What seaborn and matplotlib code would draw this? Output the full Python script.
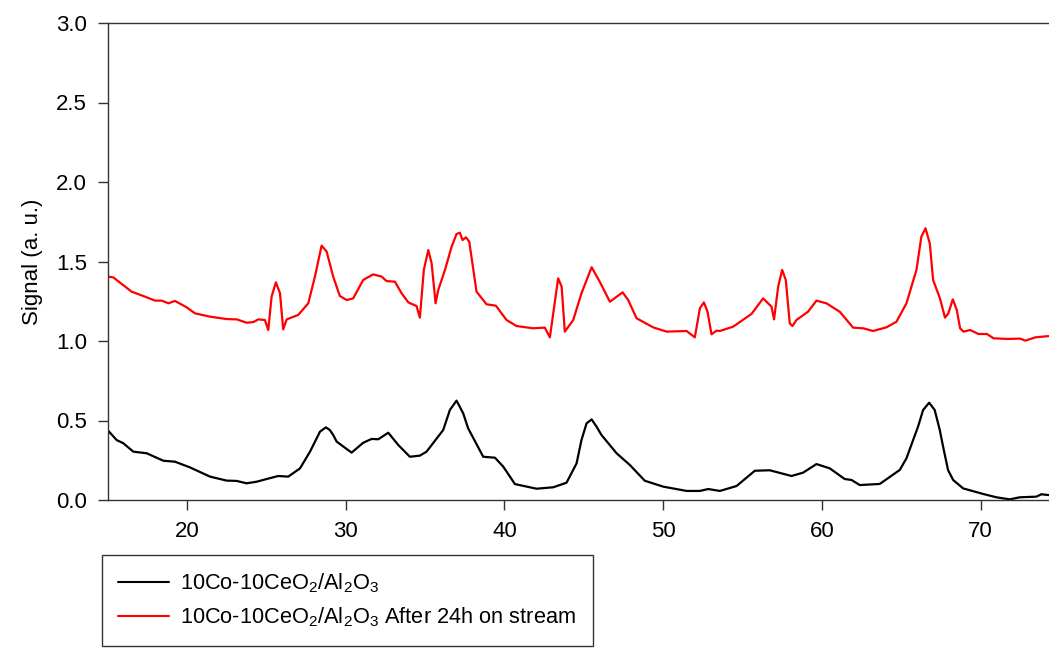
import numpy as np
import pandas as pd
import matplotlib
matplotlib.use("Agg")
import matplotlib.pyplot as plt
import seaborn as sns

# ---- data ----
fresh_x = [15.0, 15.57, 15.99, 16.62, 17.46, 18.51, 19.24, 20.19, 21.45, 22.50, 23.13, 23.76,
           24.39, 25.02, 25.75, 26.38, 27.12, 27.75, 28.38, 28.75, 29.0, 29.21, 29.43, 30.37, 31.10,
           31.63, 32.05, 32.68, 33.31, 34.04, 34.67, 35.09, 36.14, 36.56, 36.98, 37.4, 37.71, 38.66, 39.40,
           39.92, 40.66, 42.02, 43.07, 43.91, 44.54, 44.85, 45.17, 45.49, 45.8, 46.11, 47.06, 47.90, 48.84,
           50.0, 51.47, 52.31, 52.83, 53.57, 54.62, 55.77, 56.71, 58.08, 58.81, 59.65, 60.49,
           61.43, 61.86, 62.38, 63.64, 64.90, 65.32, 65.74, 66.05, 66.37, 66.75, 67.10, 67.42, 67.63,
           67.94, 68.26, 68.89, 70.15, 70.99, 71.83, 72.46, 73.5, 73.82, 74.28]
fresh_y = [0.44, 0.377, 0.357, 0.304, 0.294, 0.247, 0.241, 0.205, 0.147, 0.122, 0.12, 0.105,
           0.115, 0.132, 0.151, 0.147, 0.199, 0.304, 0.43, 0.457, 0.44, 0.409, 0.367, 0.298, 0.36,
           0.384, 0.382, 0.423, 0.346, 0.272, 0.279, 0.304, 0.44, 0.566, 0.625, 0.545, 0.451, 0.272, 0.266,
           0.21, 0.10, 0.071, 0.08, 0.109, 0.23, 0.377, 0.482, 0.507, 0.461, 0.409, 0.294, 0.22, 0.121,
           0.084, 0.057, 0.057, 0.069, 0.057, 0.088, 0.184, 0.187, 0.151, 0.172, 0.226, 0.199,
           0.132, 0.126, 0.094, 0.101, 0.189, 0.262, 0.377, 0.461, 0.566, 0.612, 0.566, 0.44, 0.335,
           0.189, 0.126, 0.073, 0.038, 0.017, 0.004, 0.017, 0.021, 0.036, 0.031]

used_x = [15.04, 15.36, 15.78, 16.52, 17.25, 17.99, 18.41, 18.83, 19.24, 19.98, 20.5, 21.45,
          22.5, 23.13, 23.76, 24.18, 24.49, 24.91, 25.12, 25.33, 25.6, 25.86, 26.06, 26.28,
          27.01, 27.64, 28.06, 28.48, 28.80, 29.21, 29.63, 30.06, 30.47, 31.10, 31.73, 32.26,
          32.57, 33.10, 33.52, 33.94, 34.46, 34.67, 34.92, 35.2, 35.41, 35.66, 35.83, 36.25,
          36.67, 36.98, 37.19, 37.36, 37.57, 37.78, 38.24, 38.87, 39.46, 40.13, 40.76, 41.81,
          42.54, 42.86, 43.38, 43.60, 43.80, 44.33, 44.85, 45.49, 46.0, 46.64, 47.44, 47.79,
          48.32, 49.36, 50.21, 51.47, 51.99, 52.31, 52.56, 52.79, 53.04, 53.36, 53.57, 54.4,
          55.56, 56.29, 56.82, 56.98, 57.24, 57.49, 57.72, 57.97, 58.14, 58.39, 59.12, 59.65,
          60.28, 61.12, 61.96, 62.59, 63.22, 64.06, 64.69, 65.32, 65.95, 66.26, 66.52, 66.79,
          67.0, 67.43, 67.75, 67.96, 68.24, 68.49, 68.70, 68.91, 69.33, 69.86, 70.39, 70.81,
          71.66, 72.49, 72.81, 73.44, 74.28]
used_y = [1.405, 1.40, 1.367, 1.31, 1.283, 1.254, 1.254, 1.237, 1.252, 1.212, 1.174, 1.153,
          1.138, 1.136, 1.115, 1.119, 1.136, 1.132, 1.069, 1.279, 1.369, 1.30, 1.073, 1.136,
          1.164, 1.237, 1.405, 1.60, 1.562, 1.405, 1.283, 1.258, 1.268, 1.384, 1.419, 1.405,
          1.377, 1.373, 1.30, 1.243, 1.22, 1.147, 1.447, 1.572, 1.489, 1.237, 1.321, 1.447,
          1.593, 1.673, 1.681, 1.635, 1.652, 1.625, 1.31, 1.231, 1.222, 1.132, 1.094, 1.08,
          1.084, 1.023, 1.394, 1.342, 1.059, 1.132, 1.30, 1.464, 1.373, 1.247, 1.306, 1.258,
          1.143, 1.086, 1.059, 1.063, 1.023, 1.206, 1.243, 1.184, 1.042, 1.065, 1.063, 1.09,
          1.17, 1.268, 1.216, 1.136, 1.342, 1.447, 1.384, 1.111, 1.094, 1.132, 1.184, 1.254,
          1.237, 1.184, 1.084, 1.08, 1.063, 1.086, 1.121, 1.237, 1.447, 1.656, 1.709, 1.614,
          1.384, 1.268, 1.147, 1.174, 1.262, 1.195, 1.08, 1.059, 1.069, 1.044, 1.044, 1.017,
          1.013, 1.015, 1.002, 1.023, 1.031]

label_fresh = r"10Co-10CeO$_2$/Al$_2$O$_3$"
label_used = r"10Co-10CeO$_2$/Al$_2$O$_3$ After 24h on stream"
y_ticks = [0.0, 0.5, 1.0, 1.5, 2.0, 2.5, 3.0]
x_ticks = [20, 30, 40, 50, 60, 70]

# ---- styling ----
sns.set_style("ticks")
plt.rcParams["font.family"] = ["Liberation Sans", "DejaVu Sans"]
plt.rcParams["text.color"] = "black"
plt.rcParams["mathtext.fontset"] = "custom"
plt.rcParams["mathtext.rm"] = "Liberation Sans"
plt.rcParams["mathtext.it"] = "Liberation Sans:italic"
plt.rcParams["mathtext.bf"] = "Liberation Sans:bold"
plt.rcParams["mathtext.default"] = "regular"

df = pd.concat([
    pd.DataFrame({"x": fresh_x, "y": fresh_y, "s": label_fresh}),
    pd.DataFrame({"x": used_x, "y": used_y, "s": label_used}),
])

fig = plt.figure(figsize=(10.49, 6.48), dpi=100)
ax = fig.add_axes([107.6 / 1049, 1 - 500 / 648, 1 - 107.6 / 1049, (500 - 23) / 648])

sns.lineplot(data=df, x="x", y="y", hue="s", estimator=None, sort=True,
             palette={label_fresh: "black", label_used: "#ff0000"},
             linewidth=1.6, ax=ax, legend=False)

ax.set_xlim(15, 74.3)
ax.set_ylim(0, 3.0)
ax.set_xticks(x_ticks)
ax.set_yticks(y_ticks)
ax.set_yticklabels([f"{v:.1f}" for v in y_ticks])
ax.set_xlabel("")
ax.set_ylabel("Signal (a. u.)", fontsize=16, labelpad=9, color="black")
ax.tick_params(axis="both", direction="out", length=7, width=1, colors="#333333",
               labelcolor="black", labelsize=16)
ax.tick_params(axis="x", pad=8)
ax.tick_params(axis="y", pad=8)
for side in ["left", "bottom", "top"]:
    ax.spines[side].set_visible(True)
    ax.spines[side].set_color("#333333")
    ax.spines[side].set_linewidth(1.0)
ax.spines["right"].set_visible(False)

handles = [plt.Line2D([], [], color="black", lw=1.5),
           plt.Line2D([], [], color="#ff0000", lw=1.5)]
leg = fig.legend(handles, [label_fresh, label_used], loc="upper left",
                 bbox_to_anchor=(102 / 1049, 1 - 555 / 648), fontsize=15.7,
                 frameon=True, fancybox=False, handlelength=2.3, handletextpad=0.55,
                 borderpad=0.75, labelspacing=0.5, borderaxespad=0)
for t in leg.get_texts():
    t.set_color("black")
leg.get_frame().set_edgecolor("black")
leg.get_frame().set_linewidth(1.0)

fig.savefig("out.png", dpi=100)
